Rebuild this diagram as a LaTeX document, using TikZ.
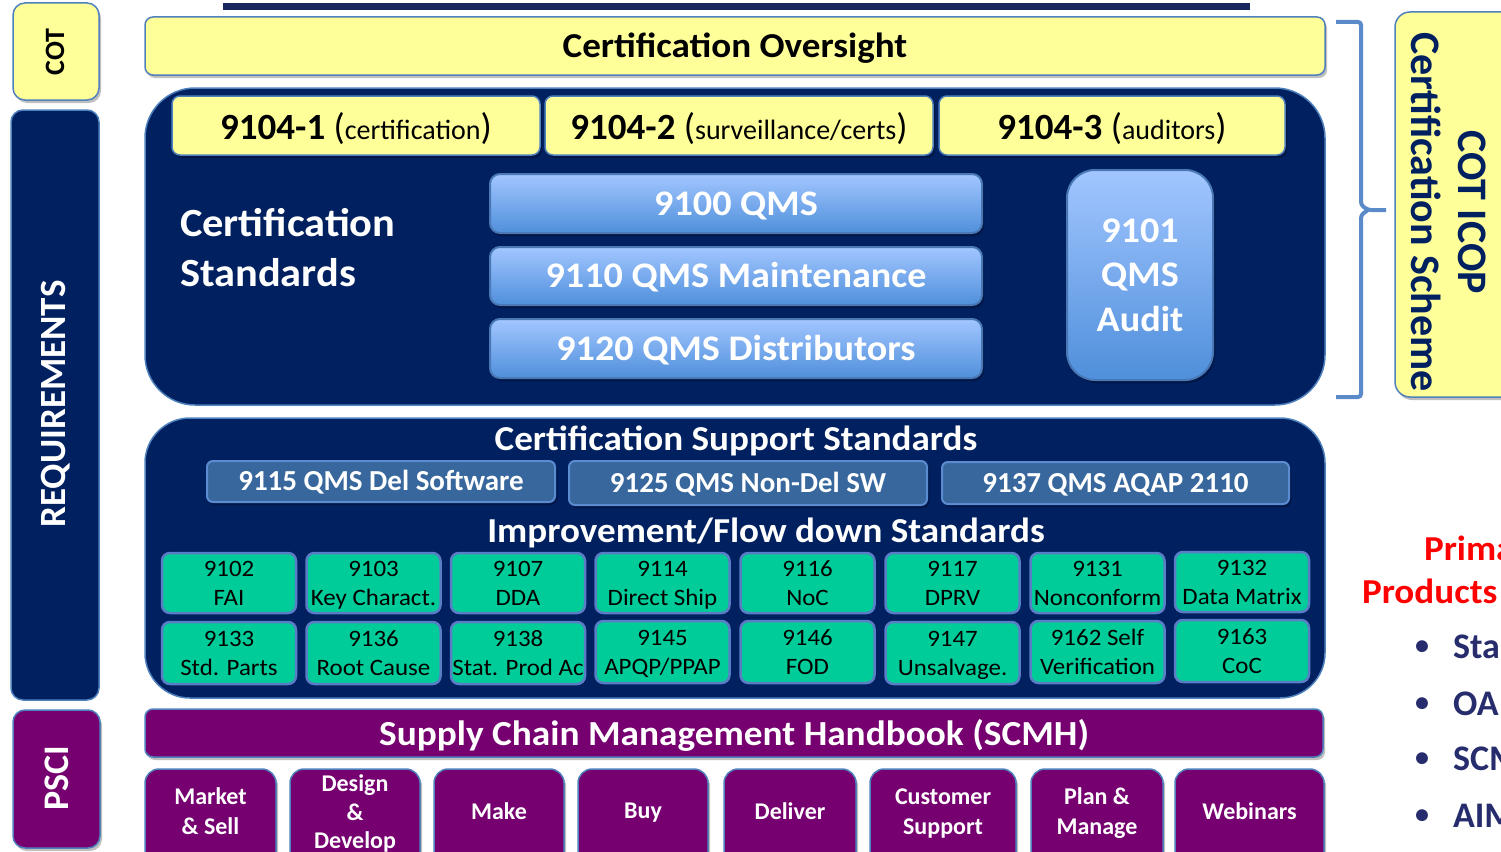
\documentclass[tikz,border=0pt]{standalone}
\usepackage{fontspec}
\setmainfont{Carlito}
\newfontfamily\wide{Carlito}[FakeStretch=1.06]
\usetikzlibrary{shadows}
\definecolor{ylw}{HTML}{FFFF99}
\definecolor{bordb}{HTML}{4F81BD}
\definecolor{navy}{HTML}{002060}
\definecolor{linenavy}{HTML}{17275E}
\definecolor{ltop}{HTML}{A2C6FF}
\definecolor{lbot}{HTML}{4F8FDB}
\definecolor{lbord}{HTML}{4A78B5}
\definecolor{supf}{HTML}{37679C}
\definecolor{supb}{HTML}{5B8BD0}
\definecolor{grn}{HTML}{00CC99}
\definecolor{grnb}{HTML}{5A7EC6}
\definecolor{purp}{HTML}{760070}
\definecolor{bulnavy}{HTML}{262C6C}
\definecolor{brk}{HTML}{5B8AC8}
\newcommand\fsz[2]{\fontsize{#1}{#2}\selectfont}
\begin{document}
\begin{tikzpicture}[x=1pt,y=-1pt,
 every node/.style={inner sep=0pt, outer sep=0pt},
 th/.style={text height=#1, text depth=0pt},
 shd/.style={drop shadow={shadow xshift=2pt,shadow yshift=-3pt,opacity=0.25,fill=black}},
 ybox/.style={draw=bordb, line width=1.5pt, fill=ylw, rounded corners=8pt, shd},
 nbox/.style={draw=bordb, line width=1.5pt, fill=navy, rounded corners=12pt},
 qbox/.style={draw=lbord, line width=2pt, top color=ltop, bottom color=lbot, rounded corners=10pt, shd, text=white, font=\wide\bfseries\fsz{36}{44.5}, align=center},
 sbox/.style={draw=supb, line width=2pt, fill=supf, rounded corners=6pt, shd, text=white, font=\bfseries\fsz{29}{32}, th=18.7},
 gbox/.style={draw=grnb, line width=2.5pt, fill=grn, rounded corners=8pt, minimum width=134, align=center, font=\wide\fsz{23.5}{29}, th=45},
 pbox/.style={draw=bordb, line width=1.5pt, fill=purp, rounded corners=14pt, shd},
 ptext/.style={text=white, font=\bfseries\fsz{24}{30}, align=center},
 wtitle/.style={text=white, font=\wide\bfseries\fsz{35}{40}, th=22.5},
 bultext/.style={anchor=base west, text=bulnavy, font=\bfseries\fsz{36}{40}},
 bulmark/.style={anchor=base, text=bulnavy, font=\bfseries\fsz{28}{30}},
 redtext/.style={anchor=base west, text=red, font=\wide\bfseries\fsz{35}{40}},
]
\useasboundingbox (0,0) rectangle (1501,851);
\clip (0,0) rectangle (1501,851);

% top bar
\node[fill=linenavy, minimum width=1027, minimum height=7] (topbar) at (736.5,7) {};

% left column
\node[ybox, rounded corners=12pt, minimum width=86, minimum height=97] (cot) at (56,51.5) {};
\node[rotate=90, font=\bfseries\fsz{28}{30}] (cott) at (55,52) {COT};
\node[nbox, minimum width=88, minimum height=590] (req) at (55,405) {};
\node[rotate=90, text=white, font=\bfseries\fsz{37}{40}] (reqt) at (56,404) {REQUIREMENTS};
\node[pbox, rounded corners=12pt, minimum width=87, minimum height=138] (psci) at (56.5,779) {};
\node[rotate=90, text=white, font=\bfseries\fsz{36}{40}] (pscit) at (57,778) {PSCI};

% oversight
\node[ybox, minimum width=1180, minimum height=58, font=\wide\bfseries\fsz{35}{40}, th=23.5] (over) at (735,46) {Certification Oversight};

% certification standards block
\node[nbox, rounded corners=50pt, minimum width=1180, minimum height=317] (cs) at (735,246.5) {};
\node[ybox, minimum width=368, minimum height=59, font=\fsz{37}{40}, th=27.4] (s1) at (356,125.5) {{\bfseries 9104-1} ({\fsz{28}{30}certification})};
\node[ybox, minimum width=388, minimum height=59, font=\fsz{37}{40}, th=27.4] (s2) at (739,125.5) {{\bfseries 9104-2} ({\fsz{28}{30}surveillance/certs})};
\node[ybox, minimum width=346, minimum height=59, font=\fsz{37}{40}, th=27.4] (s3) at (1112,125.5) {{\bfseries 9104-3} ({\fsz{28}{30}auditors})};
\node[anchor=west, text=white, align=left, font=\wide\bfseries\fsz{40}{50}] (cst) at (180,248) {Certification\\Standards};
\node[qbox, minimum width=492, minimum height=59, th=23.2] (q0) at (736,203.5) {9100 QMS};
\node[qbox, minimum width=492, minimum height=58, th=22.2] (q10) at (736,276) {9110 QMS Maintenance};
\node[qbox, minimum width=492, minimum height=59, th=24.2] (q20) at (736,348.5) {9120 QMS Distributors};
\node[qbox, rounded corners=28pt, minimum width=146, minimum height=210, th=112.2] (q1) at (1140,275) {9101\\QMS\\Audit};

% bracket and ICOP
\draw[brk, line width=4pt, rounded corners=3pt] (1336,22) -| (1361,205) -- (1368,210) -- (1386,210);
\draw[brk, line width=4pt, rounded corners=3pt] (1368,210) -- (1361,215) |- (1336,397);
\node[ybox, rounded corners=15pt, minimum width=140, minimum height=385] (icop) at (1465,204.5) {};
\node[rotate=-90, text=navy, font=\bfseries\fsz{42}{47}, align=center] (icopt) at (1449,212) {COT ICOP\\Certification Scheme};

% support block
\node[nbox, rounded corners=45pt, minimum width=1180, minimum height=280] (sup) at (735,558) {};
\node[wtitle] (supt) at (736,439) {Certification Support Standards};
\node[sbox, minimum width=348, minimum height=41] (sp1) at (381,481.5) {9115 QMS Del Software};
\node[sbox, minimum width=358, minimum height=44] (sp2) at (748,483) {9125 QMS Non-Del SW};
\node[sbox, minimum width=347, minimum height=42] (sp3) at (1115.5,483) {9137 QMS AQAP 2110};
\node[wtitle] (impt) at (766,531) {Improvement/Flow down Standards};

% green boxes row 1
\node[gbox, minimum height=60] (g1) at (229,583) {9102\\FAI};
\node[gbox, minimum height=60] (g2) at (373.5,583) {9103\\Key Charact.};
\node[gbox, minimum height=60] (g3) at (518,583) {9107\\DDA};
\node[gbox, minimum height=60] (g4) at (662.5,583) {9114\\Direct Ship};
\node[gbox, minimum height=60] (g5) at (807.5,583) {9116\\NoC};
\node[gbox, minimum height=60] (g6) at (952.5,583) {9117\\DPRV};
\node[gbox, minimum height=60] (g7) at (1097.5,583) {9131\\Nonconform};
\node[gbox, minimum height=60] (g8) at (1242,582) {9132\\Data Matrix};
% green boxes row 2
\node[gbox, minimum height=62] (h1) at (229,653) {9133\\Std. Parts};
\node[gbox, minimum height=62] (h2) at (373.5,653) {9136\\Root Cause};
\node[gbox, minimum height=62] (h3) at (518,653) {9138\\Stat. Prod Ac};
\node[gbox, minimum height=62] (h4) at (662.5,652) {9145\\APQP/PPAP};
\node[gbox, minimum height=62] (h5) at (807.5,652) {9146\\FOD};
\node[gbox, minimum height=62] (h6) at (952.5,653) {9147\\Unsalvage.};
\node[gbox, minimum height=62] (h7) at (1097.5,652) {9162 Self\\Verification};
\node[gbox, minimum height=62] (h8) at (1242,651) {9163\\CoC};

% SCMH
\node[pbox, rounded corners=8pt, minimum width=1178, minimum height=48, text=white, font=\wide\bfseries\fsz{35.2}{40}, th=24.7] (scmh) at (734,733) {Supply Chain Management Handbook (SCMH)};

% bottom boxes
\node[pbox, minimum width=131, minimum height=121] (b1) at (210.5,829.5) {};
\node[ptext, th=45.5] (b1t) at (210.5,812) {Market\\\& Sell};
\node[pbox, minimum width=130, minimum height=121] (b2) at (355,829.5) {};
\node[ptext, font=\bfseries\fsz{24}{28.5}, th=72.5] (b2t) at (355,812.5) {Design\\\&\\Develop};
\node[pbox, minimum width=130, minimum height=121] (b3) at (499,829.5) {};
\node[ptext, th=15.5] (b3t) at (499,812) {Make};
\node[pbox, minimum width=130, minimum height=121] (b4) at (643,829.5) {};
\node[ptext, th=15.5] (b4t) at (643,811) {Buy};
\node[pbox, minimum width=132, minimum height=121] (b5) at (790,829.5) {};
\node[ptext, th=15.5] (b5t) at (790,812) {Deliver};
\node[pbox, minimum width=146, minimum height=121] (b6) at (943,829.5) {};
\node[ptext, th=45.5] (b6t) at (943,812) {Customer\\Support};
\node[pbox, minimum width=132, minimum height=121] (b7) at (1097,829.5) {};
\node[ptext, th=45.5] (b7t) at (1097,812) {Plan \&\\Manage};
\node[pbox, minimum width=149, minimum height=121] (b8) at (1249.5,829.5) {};
\node[ptext, th=15.5] (b8t) at (1249.5,812) {Webinars};

% right text
\node[redtext] (prim) at (1424,560) {Prima};
\node[redtext] (prod) at (1362,603) {Products};
\node[bulmark] (m1) at (1422,654) {\textbullet};
\node[bultext] (t1) at (1453,658) {Sta};
\node[bulmark] (m2) at (1422,711) {\textbullet};
\node[bultext] (t2) at (1453,715) {OA};
\node[bulmark] (m3) at (1422,766) {\textbullet};
\node[bultext] (t3) at (1453,770) {SCM};
\node[bulmark] (m4) at (1422,823) {\textbullet};
\node[bultext] (t4) at (1453,827) {AIM};
\end{tikzpicture}
\end{document}
